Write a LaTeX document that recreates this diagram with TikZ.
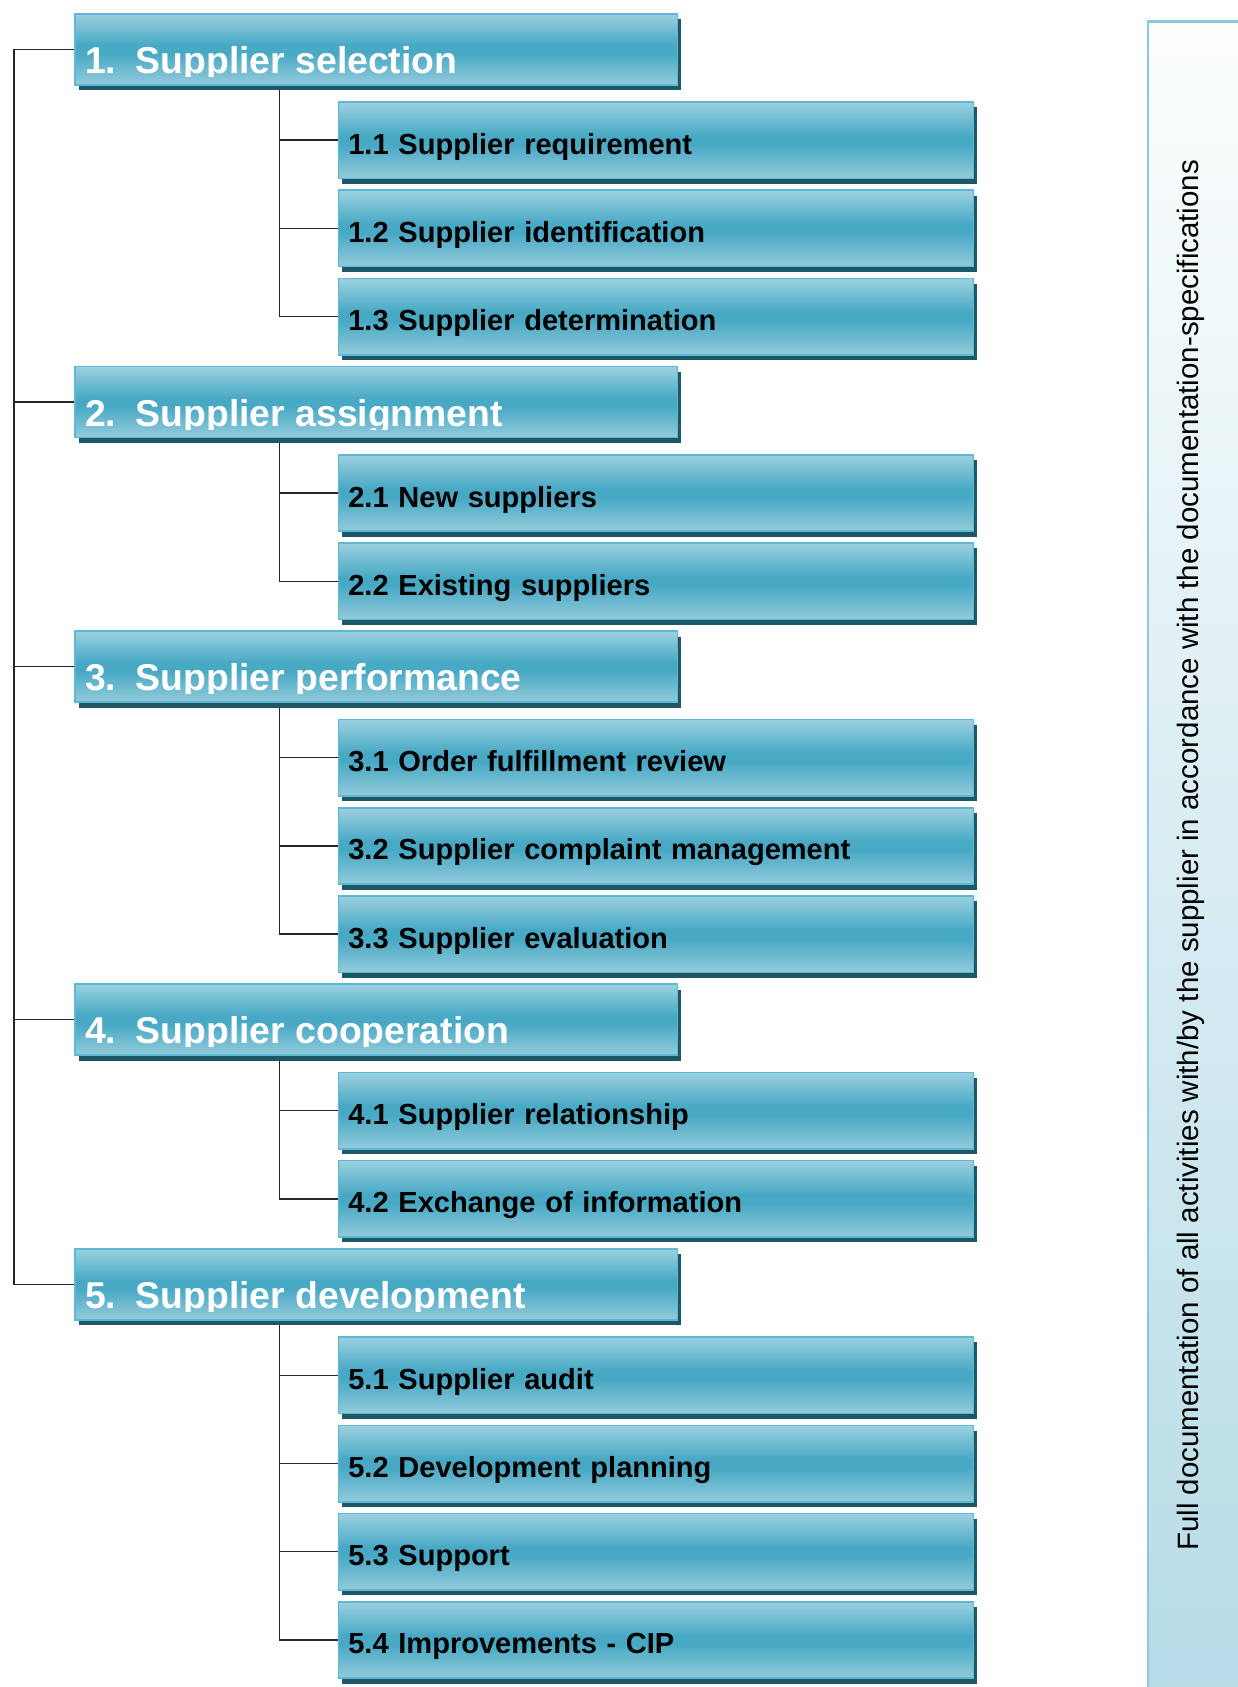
\documentclass[tikz,border=0pt]{standalone}
\usepackage{fontspec}
\setmainfont{Liberation Sans}
\usetikzlibrary{shadows,backgrounds}

\definecolor{boxtop}{HTML}{9CD0E0}
\definecolor{boxmid}{HTML}{48A9C5}
\definecolor{boxlow}{HTML}{94CBDB}
\definecolor{boxedge}{HTML}{5DB9D3}
\definecolor{boxshadow}{HTML}{1D5866}
\definecolor{paneltop}{HTML}{FCFEFE}
\definecolor{panellow}{HTML}{B5DBE6}
\definecolor{paneledge}{HTML}{8CCADB}

\pgfdeclareverticalshading{boxshade}{100bp}{color(0bp)=(boxlow); color(25bp)=(boxlow); color(47bp)=(boxmid); color(53bp)=(boxmid); color(75bp)=(boxtop); color(100bp)=(boxtop)}

\tikzset{
  box/.style={shape=rectangle, anchor=north west, shading=boxshade, draw=boxedge, line width=1.5pt,
    drop shadow={shadow xshift=3.5pt, shadow yshift=-5pt, fill=boxshadow, opacity=1}},
  head/.style={box, minimum width=560pt, minimum height=66pt, inner sep=0pt},
  headtxt/.style={anchor=base west, inner sep=0pt, text=white, font=\fontsize{34.7}{40}\selectfont\bfseries},
  sub/.style={box, minimum height=71pt, text width=572pt, inner xsep=9pt, inner ysep=0pt,
    text height=26pt, text depth=0pt, align=left, font=\fontsize{27}{32}\selectfont\bfseries},
  link/.style={line width=1.3pt, black!85}
}

\begin{document}
\begin{tikzpicture}[x=1pt, y=-1pt]
  \useasboundingbox (0,0) rectangle (1150,1568);

  % side panel
  \draw[paneledge, line width=2pt, top color=paneltop, bottom color=panellow] (1067,20) rectangle (1190,1600);
  \node (note) [rotate=90, font=\fontsize{27.4}{32}\selectfont] at (1107,795)
    {Full documentation of all activities with/by the supplier in accordance with the documentation-specifications};

  % main steps
  \node[head] (h1) at (69,12) {};
  \node[head] (h2) at (69,340) {};
  \node[head] (h3) at (69,586) {};
  \node[head] (h4) at (69,914) {};
  \node[head] (h5) at (69,1160) {};
  % titles are cut off just under the baseline
  \foreach \i/\title in {1/Supplier selection, 2/Supplier assignment, 3/Supplier performance,
      4/Supplier cooperation, 5/Supplier development} {
    \begin{scope}
      \clip (h\i.north west) rectangle ([yshift=-59pt]h\i.north east);
      \node[headtxt] (n\i) at ([xshift=10pt,yshift=-56pt]h\i.north west) {\i.};
      \node[headtxt] (t\i) at ([xshift=57pt,yshift=-56pt]h\i.north west) {\title};
    \end{scope}
  }

  % sub steps
  \node[sub] (s11) at (314,94)   {1.1 Supplier requirement};
  \node[sub] (s12) at (314,176)  {1.2 Supplier identification};
  \node[sub] (s13) at (314,258)  {1.3 Supplier determination};
  \node[sub] (s21) at (314,422)  {2.1 New suppliers};
  \node[sub] (s22) at (314,504)  {2.2 Existing suppliers};
  \node[sub] (s31) at (314,668)  {3.1 Order fulfillment review};
  \node[sub] (s32) at (314,750)  {3.2 Supplier complaint management};
  \node[sub] (s33) at (314,832)  {3.3 Supplier evaluation};
  \node[sub] (s41) at (314,996)  {4.1 Supplier relationship};
  \node[sub] (s42) at (314,1078) {4.2 Exchange of information};
  \node[sub] (s51) at (314,1242) {5.1 Supplier audit};
  \node[sub] (s52) at (314,1324) {5.2 Development planning};
  \node[sub] (s53) at (314,1406) {5.3 Support};
  \node[sub] (s54) at (314,1488) {5.4 Improvements - CIP};

  % tree lines
  \coordinate (trunk) at (13,0);
  \coordinate (fork) at (260,0);
  \begin{scope}[on background layer]
    \draw[link] (h1.west) -| (trunk |- h5.west) -- (h5.west);
    \foreach \h in {h2,h3,h4}
      \draw[link] (\h.west) -- (\h.west -| trunk);
    \draw[link] (h1.south -| fork) |- (s13.west);
    \draw[link] (h2.south -| fork) |- (s22.west);
    \draw[link] (h3.south -| fork) |- (s33.west);
    \draw[link] (h4.south -| fork) |- (s42.west);
    \draw[link] (h5.south -| fork) |- (s54.west);
    \foreach \s in {s11,s12,s21,s31,s32,s41,s51,s52,s53}
      \draw[link] (\s.west) -- (\s.west -| fork);
  \end{scope}
\end{tikzpicture}
\end{document}
